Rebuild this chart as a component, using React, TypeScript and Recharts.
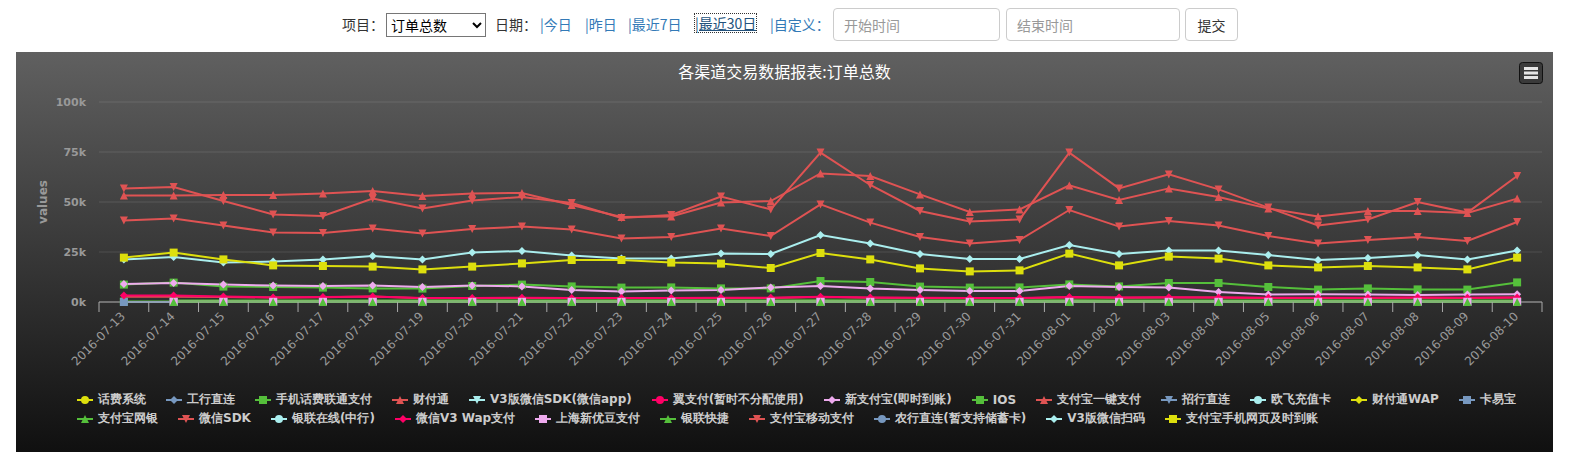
import React from 'react';
import { LineChart, Line, XAxis, YAxis, CartesianGrid, Legend, Label } from 'recharts';

const dates = [
  '2016-07-13', '2016-07-14', '2016-07-15', '2016-07-16', '2016-07-17', '2016-07-18', '2016-07-19',
  '2016-07-20', '2016-07-21', '2016-07-22', '2016-07-23', '2016-07-24', '2016-07-25', '2016-07-26',
  '2016-07-27', '2016-07-28', '2016-07-29', '2016-07-30', '2016-07-31', '2016-08-01', '2016-08-02',
  '2016-08-03', '2016-08-04', '2016-08-05', '2016-08-06', '2016-08-07', '2016-08-08', '2016-08-09',
  '2016-08-10',
];

// series without any data in this period
const noData = [
  null, null, null, null, null, null, null, null, null, null, null, null, null, null, null,
  null, null, null, null, null, null, null, null, null, null, null, null, null, null,
];

const alipayMobile = [
  56800, 57500, 50500, 43800, 43000, 51700, 46800, 50800, 52500, 49500, 42000, 43500, 52700, 46300,
  74700, 58500, 45500, 40200, 41300, 74700, 56800, 63800, 56300, 47200, 38300, 41300, 50000, 44700, 63000,
];
const alipayOneClick = [
  53300, 53300, 53500, 53500, 54300, 55500, 53000, 54300, 54500, 48500, 42500, 42800, 49700, 50500,
  64300, 63000, 53800, 45000, 46300, 58300, 51000, 56800, 52500, 46700, 42800, 45500, 45500, 44500, 51700,
];
const wechatSdk = [
  40800, 41700, 38300, 34700, 34500, 36800, 34200, 36500, 37700, 36300, 31800, 32500, 36800, 33000,
  48800, 39700, 32500, 29200, 31000, 46000, 37700, 40500, 38300, 33000, 29200, 31000, 32500, 30500, 40000,
];
const v3Scan = [
  21200, 22500, 19700, 20200, 21200, 23000, 21300, 24800, 25500, 23300, 21800, 21800, 24300, 24000,
  33500, 29300, 24000, 21500, 21500, 28500, 24000, 25800, 25800, 23500, 21000, 22000, 23500, 21200, 25700,
];
const alipayWapInstant = [
  22200, 24700, 21300, 18300, 18000, 17700, 16300, 17700, 19300, 21000, 21000, 19700, 19200, 17000,
  24500, 21300, 16800, 15300, 15800, 24200, 18300, 22700, 21700, 18300, 17300, 18000, 17300, 16300, 22200,
];
const unicomPay = [
  8700, 9700, 7700, 7500, 7200, 6800, 6700, 8000, 8700, 7800, 7200, 7300, 6800, 6800,
  10500, 10000, 7700, 7200, 7300, 8800, 7800, 9500, 9500, 7500, 6200, 6800, 6300, 6200, 9800,
];
const newAlipay = [
  9000, 9500, 8700, 8200, 8000, 8200, 7500, 8300, 7800, 6000, 5300, 5700, 6000, 7300,
  8000, 6700, 6000, 5500, 5500, 8000, 7500, 7200, 5000, 3700, 3900, 3700, 3500, 3700, 3900,
];
const wechatV3Wap = [
  3300, 3300, 2800, 2300, 2500, 2800, 2000, 2000, 2100, 2000, 2000, 2000, 2100, 2100,
  2600, 2200, 2100, 2000, 2000, 2500, 2200, 2400, 2300, 2100, 2100, 2100, 2200, 2100, 2300,
];
const tenpay = [
  2600, 2600, 2500, 2200, 2400, 2700, 1900, 1900, 2000, 1900, 1900, 1900, 2000, 2000,
  2500, 2100, 2000, 1900, 1900, 2400, 2100, 2300, 2200, 2000, 2000, 2000, 2100, 2000, 2200,
];
const iosPay = [
  200, 300, 200, 200, 200, 300, 200, 200, 300, 200, 200, 200, 200, 200,
  300, 300, 200, 200, 200, 300, 200, 300, 300, 200, 200, 200, 200, 200, 300,
];
const kayibao = [
  0, 0, 0, 0, 0, 0, 0, 0, 0, 0, 0, 0, 0, 0, 0, 0, 0, 0, 0, 0, 0, 0, 0, 0, 0, 0, 0, 0, 0,
];
const alipayBank = [
  null, 800, 700, 700, 700, 800, 700, 700, 800, 700, 700, 700, 700, 700,
  900, 800, 700, 700, 700, 900, 800, 800, 800, 700, 700, 700, 700, 700, 800,
];
const shanghaiYoudou = [
  null, 100, 100, 100, 100, 100, 100, 100, 100, 100, 100, 100, 100, 100,
  100, 100, 100, 100, 100, 100, 100, 100, 100, 100, 100, 100, 100, 100, 100,
];
const unionQuick = [
  null, 0, 0, 0, 0, 0, 0, 0, 0, 0, 0, 0, 0, 0, 0, 0, 0, 0, 0, 0, 0, 0, 0, 0, 0, 0, 0, 0, 0,
];

const seriesNames = [
  '话费系统', '工行直连', '手机话费联通支付', '财付通', 'V3版微信SDK(微信app)', '翼支付(暂时不分配使用)',
  '新支付宝(即时到账)', 'IOS', '支付宝一键支付', '招行直连', '欧飞充值卡', '财付通WAP', '卡易宝',
  '支付宝网银', '微信SDK', '银联在线(中行)', '微信V3 Wap支付', '上海新优豆支付', '银联快捷',
  '支付宝移动支付', '农行直连(暂支持储蓄卡)', 'V3版微信扫码', '支付宝手机网页及时到账',
];
const seriesValues = [
  noData, noData, unicomPay, tenpay, noData, noData, newAlipay, iosPay, alipayOneClick, noData,
  noData, noData, kayibao, alipayBank, wechatSdk, noData, wechatV3Wap, shanghaiYoudou, unionQuick,
  alipayMobile, noData, v3Scan, alipayWapInstant,
];
const yTicks = [0, 25000, 50000, 75000, 100000];

const COLORS = ['#DDDF0D', '#7798BF', '#55BF3B', '#DF5353', '#aaeeee', '#ff0066', '#eeaaee', '#55BF3B', '#DF5353', '#7798BF', '#aaeeee'];
const SHAPES = ['circle', 'diamond', 'square', 'triangle', 'triangle-down'];

const CHART_W = 1537;
const CHART_H = 400;
const Y_W = 83;
const RIGHT = 11;
const BAND = (CHART_W - Y_W - RIGHT) / dates.length;

const series = seriesNames.map((name, i) => ({
  key: 's' + i,
  name,
  color: COLORS[i % COLORS.length],
  shape: SHAPES[i % SHAPES.length],
}));

const data = dates.map((d, i) => {
  const row: any = { date: d };
  seriesValues.forEach((vals, k) => {
    row['s' + k] = vals[i];
  });
  return row;
});

const Marker = ({ cx, cy, shape, color }: any) => {
  if (cx == null || cy == null || isNaN(cx) || isNaN(cy)) return null;
  const r = 4;
  if (shape === 'circle') return <circle cx={cx} cy={cy} r={r} fill={color} />;
  if (shape === 'square') return <rect x={cx - r} y={cy - r} width={r * 2} height={r * 2} fill={color} />;
  if (shape === 'diamond')
    return <path d={`M${cx} ${cy - r}L${cx + r} ${cy}L${cx} ${cy + r}L${cx - r} ${cy}Z`} fill={color} />;
  if (shape === 'triangle')
    return <path d={`M${cx} ${cy - r}L${cx + r} ${cy + r}L${cx - r} ${cy + r}Z`} fill={color} />;
  return <path d={`M${cx - r} ${cy - r}L${cx + r} ${cy - r}L${cx} ${cy + r}Z`} fill={color} />;
};

const DateTick = (props: any) => {
  const { x, y, payload, index } = props;
  const half = BAND / 2;
  const tx = x + 2;
  const ty = y + 15;
  return (
    <g>
      <line x1={x - half} y1={y} x2={x - half} y2={y + 10} stroke="#aaa" />
      {index === dates.length - 1 && <line x1={x + half} y1={y} x2={x + half} y2={y + 10} stroke="#aaa" />}
      <text x={tx} y={ty} textAnchor="end" transform={`rotate(-45 ${tx} ${ty})`} fill="#9a9a9a" fontSize={12}>
        {payload.value}
      </text>
    </g>
  );
};

const LegendSymbol = ({ color, shape }: any) => (
  <svg width={16} height={12} style={{ marginRight: 5, flex: 'none' }}>
    <line x1={0} y1={6} x2={16} y2={6} stroke={color} strokeWidth={2} />
    <Marker cx={8} cy={6} shape={shape} color={color} />
  </svg>
);

const LegendBox = () => {
  const rows = [series.slice(0, 13), series.slice(13)];
  return (
    <div style={{ height: 62, paddingLeft: 61, boxSizing: 'border-box' }}>
      {rows.map((row, ri) => (
        <div key={ri} style={{ display: 'flex', alignItems: 'center', height: 19 }}>
          {row.map((s) => (
            <div key={s.key} style={{ display: 'flex', alignItems: 'center', marginRight: 20, whiteSpace: 'nowrap' }}>
              <LegendSymbol color={s.color} shape={s.shape} />
              <span style={{ color: '#ccc', fontWeight: 'bold', fontSize: 12 }}>{s.name}</span>
            </div>
          ))}
        </div>
      ))}
    </div>
  );
};

const pos = (left: number, top: number): React.CSSProperties => ({ position: 'absolute', left, top });
const link: React.CSSProperties = { color: '#337ab7', textDecoration: 'none' };

export default function App() {
  return (
    <div
      style={{
        position: 'relative',
        width: 1556,
        height: 449,
        fontFamily: '"Noto Sans CJK SC", sans-serif',
        fontSize: 14,
        color: '#333',
      }}
    >
      <style>{'input::placeholder{color:#999}'}</style>
      <span style={{ ...pos(334, 6), lineHeight: '20px' }}>项目：</span>
      <select
        style={{ ...pos(378, 5), width: 100, height: 24, fontSize: 14, fontFamily: 'inherit', border: '1px solid #767676', background: '#fff' }}
        defaultValue="订单总数"
      >
        <option>订单总数</option>
      </select>
      <span style={{ ...pos(487, 6), lineHeight: '20px' }}>日期：</span>
      <a style={{ ...pos(532, 6), ...link, lineHeight: '20px' }}>|今日</a>
      <a style={{ ...pos(577, 6), ...link, lineHeight: '20px' }}>|昨日</a>
      <a style={{ ...pos(620, 6), ...link, lineHeight: '20px' }}>|最近7日</a>
      <a style={{ ...pos(687, 6), ...link, lineHeight: '18px', outline: '1px dotted #333', textDecoration: 'underline', color: '#23527c' }}>|最近30日</a>
      <a style={{ ...pos(762, 6), ...link, lineHeight: '20px' }}>|自定义：</a>
      <input
        placeholder="开始时间"
        style={{ ...pos(825, 0), width: 167, height: 33, boxSizing: 'border-box', border: '1px solid #ccc', borderRadius: 4, padding: '6px 10px', fontSize: 14, fontFamily: 'inherit' }}
      />
      <input
        placeholder="结束时间"
        style={{ ...pos(998, 0), width: 174, height: 33, boxSizing: 'border-box', border: '1px solid #ccc', borderRadius: 4, padding: '6px 10px', fontSize: 14, fontFamily: 'inherit' }}
      />
      <button
        style={{ ...pos(1177, 0), width: 53, height: 33, border: '1px solid #ccc', borderRadius: 4, background: '#fff', fontSize: 14, fontFamily: 'inherit', color: '#333' }}
      >
        提交
      </button>

      <div
        style={{
          position: 'absolute',
          left: 8,
          top: 44,
          width: CHART_W,
          height: CHART_H,
          background: 'linear-gradient(rgb(96,96,96), rgb(16,16,16))',
        }}
      >
        <div
          style={{ position: 'absolute', left: 0, top: 8, width: CHART_W, textAlign: 'center', color: '#fff', fontSize: 16, lineHeight: '22px' }}
        >
          各渠道交易数据报表:订单总数
        </div>
        <svg style={{ position: 'absolute', left: 1503, top: 10 }} width={24} height={22}>
          <rect x={0.5} y={0.5} width={23} height={21} rx={3} fill="#3a3a3a" stroke="#111" />
          <line x1={5} y1={6.5} x2={19} y2={6.5} stroke="#e6e6e6" strokeWidth={3} />
          <line x1={5} y1={11} x2={19} y2={11} stroke="#e6e6e6" strokeWidth={3} />
          <line x1={5} y1={15.5} x2={19} y2={15.5} stroke="#e6e6e6" strokeWidth={3} />
        </svg>
        <LineChart
          width={CHART_W}
          height={CHART_H}
          data={data}
          margin={{ top: 50, right: RIGHT, left: 0, bottom: 0 }}
          style={{ fontFamily: '"DejaVu Sans", sans-serif' }}
        >
          <CartesianGrid vertical={false} stroke="rgba(255,255,255,0.12)" />
          <XAxis
            dataKey="date"
            interval={0}
            height={88}
            padding={{ left: BAND / 2, right: BAND / 2 }}
            tickSize={0}
            tickMargin={0}
            tickLine={false}
            axisLine={{ stroke: '#aaa' }}
            tick={<DateTick />}
          />
          <YAxis
            width={Y_W}
            domain={[0, 100000]}
            ticks={yTicks}
            tickFormatter={(v: number) => v / 1000 + 'k'}
            axisLine={false}
            tickLine={false}
            tickSize={0}
            tickMargin={13}
            tick={{ fill: '#999', fontSize: 11, fontWeight: 'bold' }}
          >
            <Label
              content={({ viewBox }: any) => {
                const lx = viewBox.x + 27;
                const ly = viewBox.y + viewBox.height / 2;
                return (
                  <text x={lx} y={ly} textAnchor="middle" dominantBaseline="central" transform={`rotate(-90 ${lx} ${ly})`} fill="#999" fontSize={12} fontWeight="bold">
                    values
                  </text>
                );
              }}
            />
          </YAxis>
          <Legend verticalAlign="bottom" content={() => <LegendBox />} />
          {series.map((s) => (
            <Line
              key={s.key}
              dataKey={s.key}
              name={s.name}
              type="linear"
              stroke={s.color}
              strokeWidth={2}
              isAnimationActive={false}
              activeDot={false}
              dot={(p: any) => <Marker key={s.key + '-' + p.index} cx={p.cx} cy={p.cy} shape={s.shape} color={s.color} />}
            />
          ))}
        </LineChart>
      </div>
    </div>
  );
}
